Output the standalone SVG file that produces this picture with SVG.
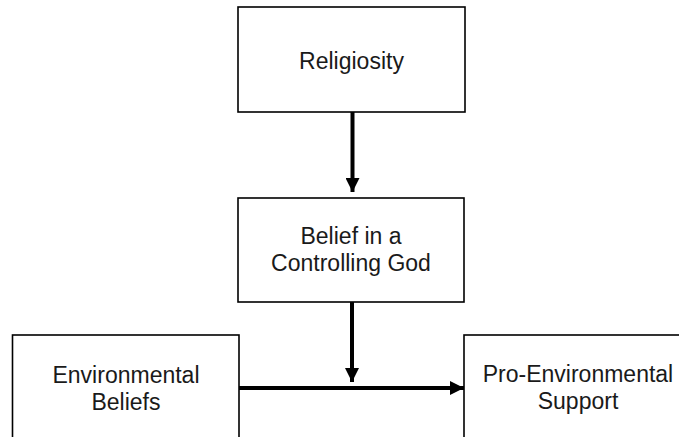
<svg xmlns="http://www.w3.org/2000/svg" width="679" height="437" viewBox="0 0 679 437">
<style>
.box{fill:#fff;stroke:#000;stroke-width:1.6}
.lbl{font-family:"Liberation Sans",Arial,sans-serif;font-size:23px;fill:#1a1a1a;text-anchor:middle}
.conn{stroke:#000;stroke-width:4;fill:none}
</style>
<defs>
<marker id="ah" markerUnits="userSpaceOnUse" markerWidth="14" markerHeight="14" viewBox="0 0 14 14" refX="14" refY="7" orient="auto">
<path d="M0,0 L14,7 L0,14 Z" fill="#000"/>
</marker>
</defs>
<rect width="679" height="437" fill="#fff"/>
<g id="religiosity">
<rect class="box" x="238" y="7" width="227" height="105"/>
<text class="lbl" x="351.5" y="69">Religiosity</text>
</g>
<g id="belief">
<rect class="box" x="238" y="198" width="226" height="104"/>
<text class="lbl" x="351" y="244">Belief in a</text>
<text class="lbl" x="351" y="271">Controlling God</text>
</g>
<g id="envbeliefs">
<rect class="box" x="12.5" y="335" width="226.5" height="110"/>
<text class="lbl" x="126" y="383">Environmental</text>
<text class="lbl" x="126" y="410">Beliefs</text>
</g>
<g id="prosupport">
<rect class="box" x="464" y="335" width="230" height="110"/>
<text class="lbl" x="578" y="382">Pro-Environmental</text>
<text class="lbl" x="578" y="409">Support</text>
</g>
<g id="connectors">
<line class="conn" x1="352.5" y1="112" x2="352.5" y2="192" marker-end="url(#ah)"/>
<line class="conn" x1="352" y1="302" x2="352" y2="382" marker-end="url(#ah)"/>
<line class="conn" x1="239" y1="388" x2="464" y2="388" marker-end="url(#ah)"/>
</g>
</svg>
